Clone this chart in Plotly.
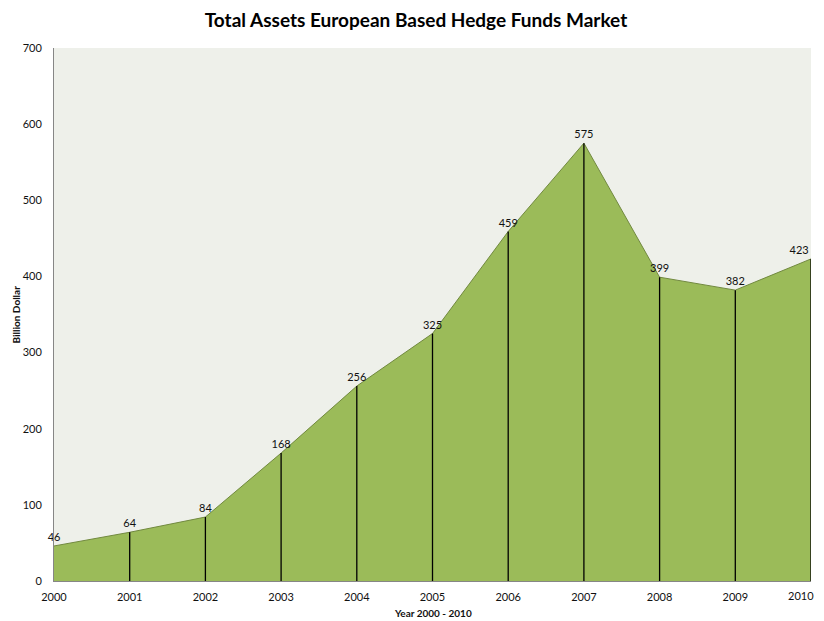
import plotly.graph_objects as go

years = [2000, 2001, 2002, 2003, 2004, 2005, 2006, 2007, 2008, 2009, 2010]
assets = [46, 64, 84, 168, 256, 325, 459, 575, 399, 382, 423]

FONT = "Lato, 'Open Sans', sans-serif"

# drop lines from each point down to the axis (skip 2000, it sits on the y axis)
drop_x, drop_y = [], []
for yr, v in zip(years[1:], assets[1:]):
    drop_x += [yr, yr, None]
    drop_y += [0, v, None]

# last label sits on the right edge of the page, keep it inside
label_pos = ["top center"] * (len(years) - 1) + ["top left"]

fig = go.Figure()
fig.add_trace(go.Scatter(
    x=years, y=assets, mode="lines", fill="tozeroy",
    fillcolor="#9BBB59", line=dict(color="#71893F", width=1),
    hoverinfo="x+y", showlegend=False))
fig.add_trace(go.Scatter(
    x=drop_x, y=drop_y, mode="lines",
    line=dict(color="black", width=1.3), hoverinfo="skip", showlegend=False))
fig.add_trace(go.Scatter(
    x=years, y=assets, mode="markers+text", text=[str(v) for v in assets],
    marker=dict(size=2, opacity=0),
    textposition=label_pos, textfont=dict(size=11, color="#111"),
    hoverinfo="skip", showlegend=False, cliponaxis=False))

# page has an 8px body margin, so the figure is 816x613
fig.update_layout(
    width=816, height=613,
    margin=dict(l=46, r=13, t=40, b=40, autoexpand=False),
    paper_bgcolor="white", plot_bgcolor="#EEF0EA",
    font=dict(family=FONT, color="#111"),
    title=dict(text="<b>Total Assets European Based Hedge Funds Market</b>",
               x=0.5, xanchor="center", y=0.98, yanchor="middle",
               font=dict(size=19, color="black")),
    xaxis=dict(range=[2000, 2010], tickvals=years[:-1], showgrid=False,
               zeroline=False, showline=True, linecolor="#868686",
               ticks="outside", ticklen=6, tickcolor="rgba(0,0,0,0)",
               tickfont=dict(size=11), automargin=False),
    yaxis=dict(range=[0, 700], dtick=100, showgrid=False, zeroline=False,
               showline=True, linecolor="#868686",
               ticks="outside", ticklen=9, tickcolor="rgba(0,0,0,0)",
               tickfont=dict(size=11), automargin=False),
    annotations=[
        dict(text=str(years[-1]), xref="x", yref="paper",
             x=years[-1], y=0, xanchor="right", yanchor="top",
             xshift=5, yshift=-6, showarrow=False, font=dict(size=11)),
        dict(text="<b>Year 2000 - 2010</b>", xref="paper", yref="paper",
             x=0.5, y=-0.060, xanchor="center", yanchor="middle",
             showarrow=False, font=dict(size=10)),
        dict(text="<b>Billion Dollar</b>", xref="paper", yref="paper",
             x=-0.0515, y=0.5, xanchor="center", yanchor="middle",
             textangle=-90, showarrow=False, font=dict(size=10)),
    ],
)

fig.write_html("out.html")
